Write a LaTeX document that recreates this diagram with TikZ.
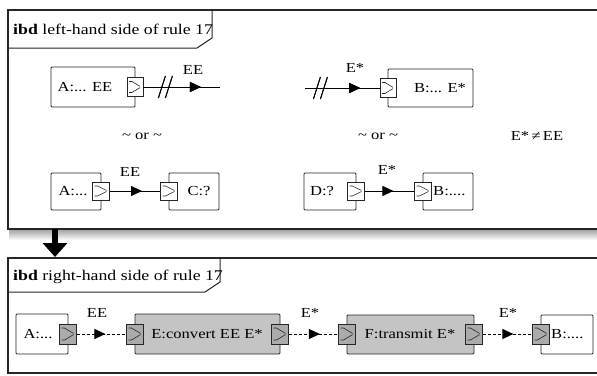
\documentclass[tikz,border=0pt]{standalone}
\usepackage{fontspec}
\setmainfont[FakeStretch=1.2]{Liberation Serif}
\usetikzlibrary{arrows.meta,decorations.markings}
\begin{document}
\begin{tikzpicture}[x=1pt,y=-1pt,
  frame/.style={draw=black!85, line width=1.3pt},
  box/.style={draw=black!85, line width=0.9pt, inner sep=0, rounded corners=1pt},
  gbox/.style={box, fill=black!23},
  port/.style={draw=black!85, fill=white, line width=0.8pt, inner sep=0,
    minimum width=16pt, minimum height=19pt,
    path picture={
      \draw[line width=0.6pt] ([xshift=2pt,yshift=-4pt]path picture bounding box.north west)
        -- ([xshift=5pt,yshift=-4pt]path picture bounding box.north west)
        -- ([xshift=-2pt]path picture bounding box.east)
        -- ([xshift=5pt,yshift=4pt]path picture bounding box.south west)
        -- ([xshift=2pt,yshift=4pt]path picture bounding box.south west);
      \fill ([xshift=-2pt]path picture bounding box.east) circle (1.3pt);}},
  gport/.style={port, fill=black!33, minimum width=17pt, minimum height=20pt},
  lbl/.style={inner sep=0, font=\fontsize{13.8}{15}\selectfont},
  tablbl/.style={inner sep=0, font=\fontsize{14.8}{16}\selectfont},
  conn/.style={draw=black, line width=0.9pt},
  dconn/.style={conn, dash pattern=on 3pt off 2pt},
  flow/.style={postaction={decorate}, decoration={markings,
    mark=at position #1 with {\arrow{Triangle[length=11pt,width=10pt]}}}},
  slashes/.style={postaction={decorate}, decoration={markings,
    mark=at position #1 with {\draw[line width=0.9pt] (-8,11) -- (-1,-11); \draw[line width=0.9pt] (-1,11) -- (6,-11);}}}
]
\useasboundingbox (0,0) rectangle (597,375);
\clip (0,0) rectangle (597,375);
\fill[white] (0,0) rectangle (597,375);

% shadow under top frame
\shade[top color=black!35, bottom color=white] (9,230) rectangle (600,240);

% ---------- top frame ----------
\draw[frame] (8,10) rectangle (610,229);
\draw[frame, line width=1pt] (8,48) -- (197,48) -- (212,38) -- (212,10);
\node[tablbl, anchor=west] (t1) at (13,29) {\textbf{ibd} left-hand side of rule 17};

% top-left
\node[box, minimum width=84pt, minimum height=40pt] (A1) at (93,87) {};
\node[lbl] (A1t) at (85,87) {A:... EE};
\node[port] (p1) at (135,87) {};
\coordinate (e1) at (220,87);
\draw[conn, flow=0.75, slashes=0.3] (p1.east) -- (e1);
\node[lbl] (l1) at (193,70) {EE};

% top-right
\node[box, minimum width=85pt, minimum height=38pt] (B1) at (430.5,88) {};
\node[lbl] (B1t) at (440,88) {B:... E*};
\node[port] (p2) at (388,88) {};
\coordinate (s2) at (305,88);
\draw[conn, flow=0.74, slashes=0.22] (s2) -- (p2.west);
\node[lbl] (l2) at (355,68) {E*};

% or texts
\node[lbl] (or1) at (142,136) {\textasciitilde\ or \textasciitilde};
\node[lbl] (or2) at (378,136) {\textasciitilde\ or \textasciitilde};
\node[lbl] (neq) at (537,136) {E*\,≠\,EE};

% bottom-left pair
\node[box, minimum width=50pt, minimum height=37pt] (A2) at (76,191.5) {};
\node[lbl] (A2t) at (73,191.5) {A:...};
\node[port, minimum width=17pt, minimum height=18pt] (p3) at (101,191) {};
\node[box, minimum width=50pt, minimum height=37pt] (C2) at (194,191.5) {};
\node[lbl] (C2t) at (199,191.5) {C:?};
\node[port, minimum width=17pt, minimum height=18pt] (p4) at (169,191) {};
\draw[conn, flow=0.64] (p3.east) -- (p4.west);
\node[lbl] (l3) at (130,172) {EE};

% bottom-right pair
\node[box, minimum width=52pt, minimum height=37pt] (D2) at (330,191.5) {};
\node[lbl] (D2t) at (322,191.5) {D:?};
\node[port, minimum width=17pt, minimum height=18pt] (p5) at (356,191) {};
\node[box, minimum width=50pt, minimum height=37pt] (B2) at (448,191.5) {};
\node[lbl, anchor=west] (B2t) at (433,191.5) {B:....};
\node[port, minimum width=17pt, minimum height=18pt] (p6) at (423,191) {};
\draw[conn, flow=0.58] (p5.east) -- (p6.west);
\node[lbl] (l4) at (387,170) {E*};

% ---------- arrow between frames ----------
\coordinate (aTop) at (55,229);
\coordinate (aBot) at (55,257);
\draw[line width=6pt, -{Triangle[length=14pt,width=24pt]}] (aTop) -- (aBot);

% ---------- bottom frame ----------
\draw[frame] (8,258) rectangle (610,373);
\draw[frame, line width=1pt] (8,292) -- (205,292) -- (220,282) -- (220,258);
\node[tablbl, anchor=west] (t2) at (13,277) {\textbf{ibd} right-hand side of rule 17};

\node[box, minimum width=52pt, minimum height=40pt] (A3) at (42,334) {};
\node[lbl] (A3t) at (38,334) {A:...};
\node[gport] (q1) at (68,334) {};

\node[gbox, minimum width=145pt, minimum height=40pt] (E3) at (207.5,334) {};
\node[lbl] (E3t) at (207,334) {E:convert EE E*};
\node[gport] (q2) at (135,334) {};
\node[gport] (q3) at (280,334) {};

\node[gbox, minimum width=127pt, minimum height=39pt] (F3) at (410.5,334.5) {};
\node[lbl] (F3t) at (410,334) {F:transmit E*};
\node[gport] (q4) at (347,334) {};
\node[gport] (q5) at (474,334) {};

\node[box, minimum width=52pt, minimum height=39pt] (B3) at (567,334.5) {};
\node[lbl, anchor=west] (B3t) at (551,334) {B:....};
\node[gport] (q6) at (541,334) {};

\draw[dconn, flow=0.58] (q1.east) -- (q2.west);
\node[lbl] (l5) at (97,313) {EE};
\draw[dconn, flow=0.63] (q3.east) -- (q4.west);
\node[lbl] (l6) at (310,313) {E*};
\draw[dconn, flow=0.62] (q5.east) -- (q6.west);
\node[lbl] (l7) at (508,313) {E*};
\end{tikzpicture}
\end{document}
